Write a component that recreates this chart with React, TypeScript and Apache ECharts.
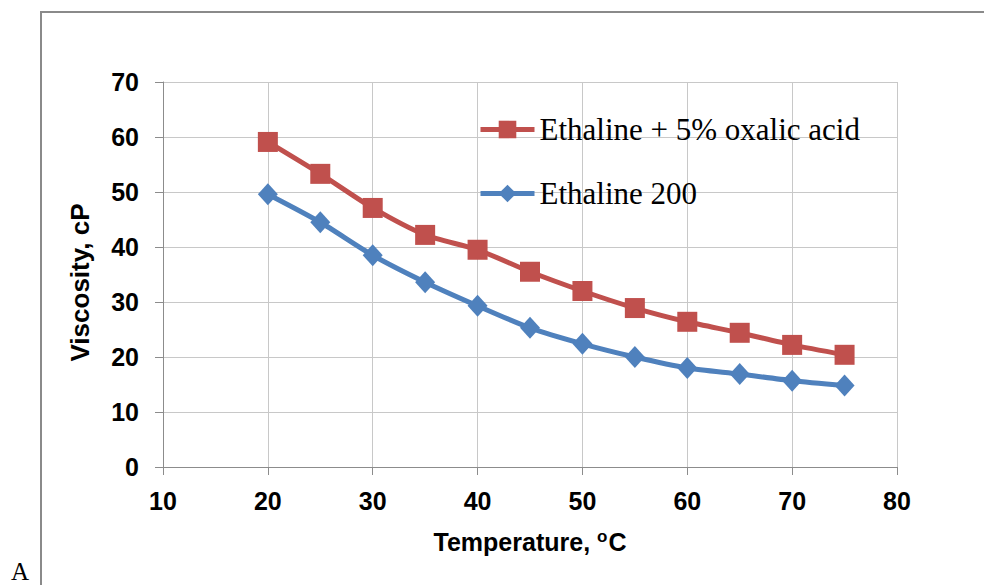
import React, { useEffect, useRef } from "react";
import * as echarts from "echarts";

const temperatures = [20, 25, 30, 35, 40, 45, 50, 55, 60, 65, 70, 75];
const oxalicViscosity = [59.1, 53.3, 47.1, 42.2, 39.5, 35.5, 32.0, 28.9, 26.4, 24.4, 22.2, 20.4];
const ethalineViscosity = [49.6, 44.5, 38.5, 33.6, 29.3, 25.3, 22.4, 20.0, 18.0, 16.9, 15.7, 14.8];
const seriesNames = ["Ethaline + 5% oxalic acid", "Ethaline 200"];

export default function App() {
  const ref = useRef<HTMLDivElement>(null);
  useEffect(() => {
    if (!ref.current) return;
    const chart = echarts.init(ref.current, null, { renderer: "svg" });
    const sans = "Liberation Sans, Arial, sans-serif";
    const serif = "Liberation Serif, Times New Roman, serif";
    chart.setOption({
      animation: false,
      backgroundColor: "#ffffff",
      grid: { left: 163, top: 82, right: 87, bottom: 118, containLabel: false },
      legend: {
        orient: "vertical",
        left: 473,
        top: 109,
        itemGap: 33,
        itemWidth: 54,
        itemHeight: 22,
        lineStyle: { width: 5 },
        textStyle: { fontFamily: serif, fontSize: 31, color: "#000" },
        data: seriesNames,
      },
      xAxis: {
        type: "value",
        min: 10,
        max: 80,
        interval: 10,
        name: "Temperature, {sup|o}C",
        nameLocation: "middle",
        nameGap: 61,
        nameTextStyle: {
          fontFamily: sans,
          fontSize: 25,
          fontWeight: "bold",
          color: "#000",
          rich: {
            sup: { fontFamily: sans, fontSize: 17, color: "#000", padding: [0, 1, 11, 0] },
          },
        },
        axisLine: { show: true, lineStyle: { color: "#8c8c8c", width: 1 } },
        axisTick: { show: true, length: 8, inside: false, lineStyle: { color: "#8c8c8c" } },
        axisLabel: { fontFamily: sans, fontSize: 25, fontWeight: "bold", color: "#000", margin: 21 },
        splitLine: { show: true, lineStyle: { color: "#c8c8c8", width: 1 } },
      },
      yAxis: {
        type: "value",
        min: 0,
        max: 70,
        interval: 10,
        name: "Viscosity, cP",
        nameLocation: "middle",
        nameGap: 70,
        nameTextStyle: {
          fontFamily: sans,
          fontSize: 26,
          fontWeight: "bold",
          color: "#000",
          padding: [0, 16, 0, 0],
        },
        axisLine: { show: true, lineStyle: { color: "#8c8c8c", width: 1 } },
        axisTick: { show: true, length: 8, inside: false, lineStyle: { color: "#8c8c8c" } },
        axisLabel: { fontFamily: sans, fontSize: 25, fontWeight: "bold", color: "#000", margin: 24 },
        splitLine: { show: true, lineStyle: { color: "#c8c8c8", width: 1 } },
      },
      series: [
        {
          name: seriesNames[0],
          type: "line",
          smooth: 0.25,
          data: temperatures.map((t, i) => [t, oxalicViscosity[i]]),
          symbol: "rect",
          symbolSize: 20,
          lineStyle: { color: "#C0504D", width: 5 },
          itemStyle: { color: "#C0504D" },
          z: 3,
        },
        {
          name: seriesNames[1],
          type: "line",
          smooth: 0.25,
          data: temperatures.map((t, i) => [t, ethalineViscosity[i]]),
          symbol: "diamond",
          symbolSize: [20, 22],
          lineStyle: { color: "#4F81BD", width: 5 },
          itemStyle: { color: "#4F81BD" },
          z: 3,
        },
      ],
      graphic: [
        {
          type: "rect",
          shape: { x: 41, y: 12, width: 1000, height: 700 },
          style: { fill: "none", stroke: "#8a8a8a", lineWidth: 2 },
          silent: true,
        },
        {
          type: "text",
          left: 11,
          top: 559,
          style: { text: "A", fontFamily: serif, fontSize: 25, fill: "#000" },
        },
      ],
    });
    return () => chart.dispose();
  }, []);
  return (
    <div
      ref={ref}
      style={{ position: "fixed", left: 0, top: 0, width: 984, height: 585, background: "#fff" }}
    />
  );
}
